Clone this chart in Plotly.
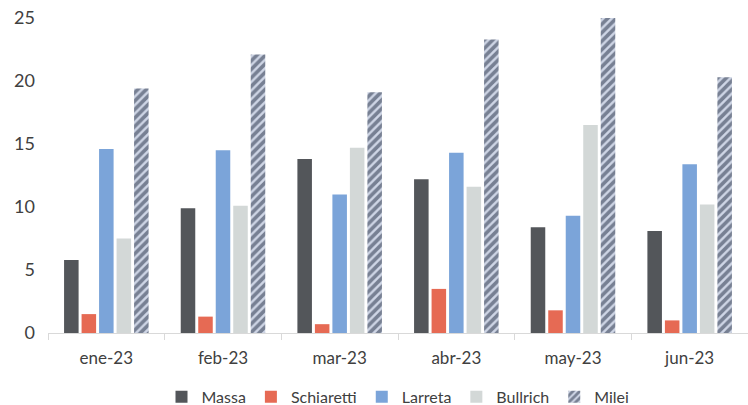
import plotly.graph_objects as go

# Monthly voting-intention figures per candidate
months = ["ene-23", "feb-23", "mar-23", "abr-23", "may-23", "jun-23"]
massa = [5.8, 9.9, 13.8, 12.2, 8.4, 8.1]
schiaretti = [1.5, 1.3, 0.7, 3.5, 1.8, 1.0]
larreta = [14.6, 14.5, 11.0, 14.3, 9.3, 13.4]
bullrich = [7.5, 10.1, 14.7, 11.6, 16.5, 10.2]
milei = [19.4, 22.1, 19.1, 23.3, 25.0, 20.3]

fig = go.Figure()

solid_series = [
    ("Massa", massa, "#53565a"),
    ("Schiaretti", schiaretti, "#e66a54"),
    ("Larreta", larreta, "#7ba4d9"),
    ("Bullrich", bullrich, "#d3d8d7"),
]
for name, vals, color in solid_series:
    fig.add_trace(go.Bar(x=months, y=vals, name=name,
                         marker=dict(color=color, line=dict(width=0))))

fig.add_trace(go.Bar(
    x=months, y=milei, name="Milei",
    marker=dict(
        color="#cfd6e6",
        line=dict(width=0),
        pattern=dict(shape="/", fgcolor="#1f2940", bgcolor="#cfd6e6",
                     size=6, solidity=0.6, fillmode="overlay"),
    ),
))

fig.update_layout(
    width=748, height=405,
    margin=dict(l=48, r=0, t=18, b=72, autoexpand=False),
    paper_bgcolor="white", plot_bgcolor="white",
    barmode="group", bargap=0.25, bargroupgap=0.17,
    font=dict(family="Lato, sans-serif", size=16, color="#404040"),
    showlegend=True,
    legend=dict(orientation="h", x=0.5, xanchor="center",
                yref="container", y=0.02, yanchor="middle",
                font=dict(size=16, color="#404040"), itemwidth=30,
                tracegroupgap=0, traceorder="normal"),
    xaxis=dict(showline=True, linecolor="#d9d9d9", linewidth=1,
               ticks="outside", tickson="boundaries", ticklen=6,
               tickcolor="#d9d9d9", showgrid=False, automargin=False,
               ticklabelstandoff=10,
               tickfont=dict(size=17, color="#404040")),
    yaxis=dict(range=[0, 25], dtick=5, showgrid=False, zeroline=False,
               showline=False, ticks="", ticklabelstandoff=12, automargin=False,
               tickfont=dict(size=18, color="#404040")),
)

fig.write_html("out.html")
